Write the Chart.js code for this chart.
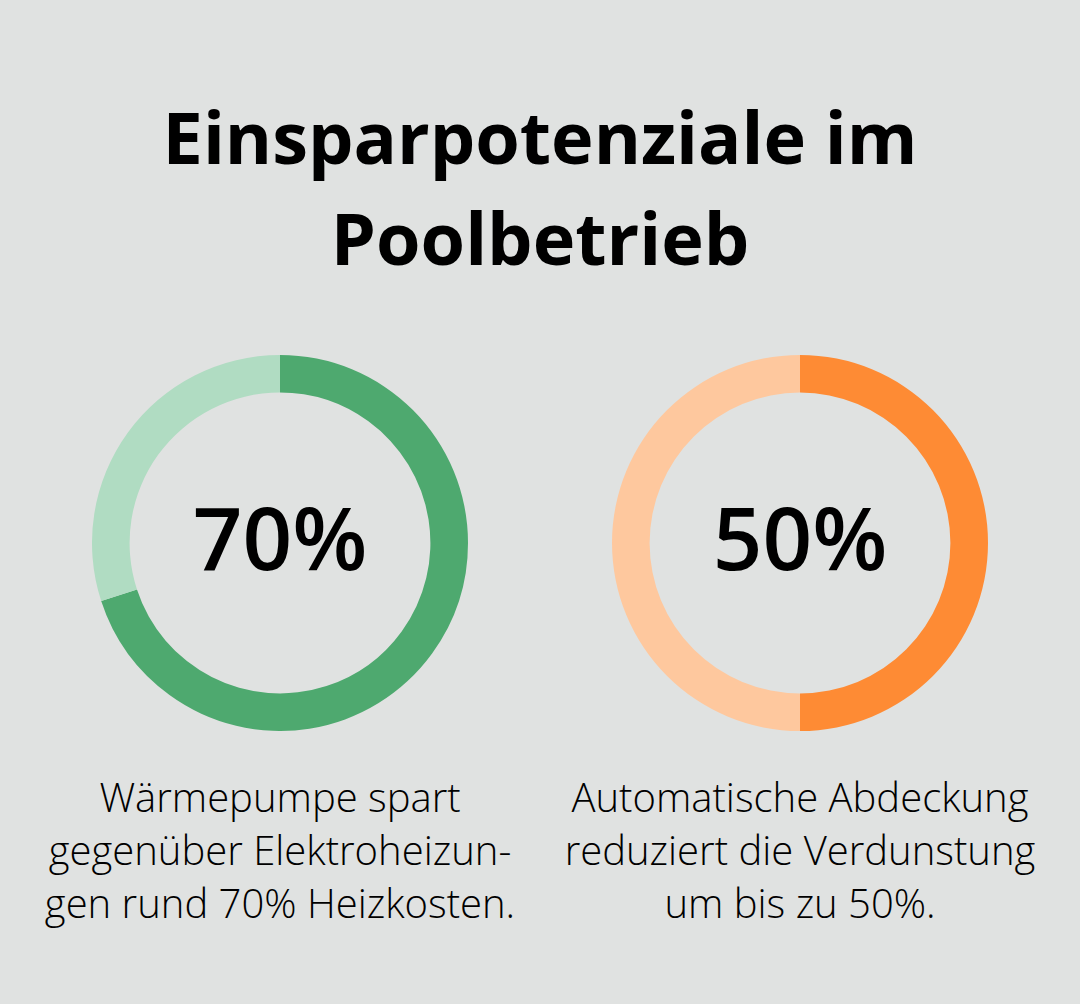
<!DOCTYPE html>
<html>
<head>
<meta charset="utf-8">
<script src="https://cdn.jsdelivr.net/npm/chart.js@4.4.0/dist/chart.umd.min.js"></script>
<style>
    html, body { margin: 0; padding: 0; }
    body {
        width: 1080px;
        height: 1004px;
        background: #e0e2e1;
        position: relative;
        overflow: hidden;
        font-family: "Open Sans", sans-serif;
        color: #000;
    }
    .title {
        position: absolute;
        left: 0;
        top: 86px;
        width: 1080px;
        text-align: center;
        font-size: 72px;
        font-weight: 700;
        line-height: 101px;
    }
    .ring {
        position: absolute;
        top: 355px;
        width: 376px;
        height: 376px;
    }
    .value {
        position: absolute;
        top: 492px;
        width: 376px;
        text-align: center;
        font-size: 87px;
        font-weight: 550;
        line-height: 88px;
    }
    .caption {
        position: absolute;
        top: 770px;
        width: 540px;
        text-align: center;
        font-size: 40px;
        font-weight: 300;
        line-height: 53px;
    }
</style>
</head>
<body>
<div class="title">Einsparpotenziale im<br>Poolbetrieb</div>

<canvas id="ring1" class="ring" width="376" height="376" style="left:92px"></canvas>
<canvas id="ring2" class="ring" width="376" height="376" style="left:612px"></canvas>

<div id="value1" class="value" style="left:92px"></div>
<div id="value2" class="value" style="left:612px"></div>

<div id="caption1" class="caption" style="left:10px"></div>
<div id="caption2" class="caption" style="left:530px"></div>

<script>
// Data
const savingsLabels = ['Wärmepumpe', 'Abdeckung'];
const savingsValues = [70, 50];
const captionLines = [
    ['Wärmepumpe spart', 'gegenüber Elektroheizun-', 'gen rund 70% Heizkosten.'],
    ['Automatische Abdeckung', 'reduziert die Verdunstung', 'um bis zu 50%.']
];
const mainColors = ['#4ea96f', '#fe8b34'];
const restColors = ['#b0dcc2', '#fec89e'];

document.addEventListener('DOMContentLoaded', function() {
    savingsValues.forEach(function(value, i) {
        const n = i + 1;

        document.getElementById('value' + n).textContent = value + '%';
        document.getElementById('caption' + n).innerHTML = captionLines[i].join('<br>');

        const ctx = document.getElementById('ring' + n).getContext('2d');
        new Chart(ctx, {
            type: 'doughnut',
            data: {
                labels: [savingsLabels[i], 'Rest'],
                datasets: [{
                    data: [value, 100 - value],
                    backgroundColor: [mainColors[i], restColors[i]],
                    borderWidth: 0
                }]
            },
            options: {
                responsive: false,
                animation: false,
                cutout: '80%',
                layout: { padding: 0 },
                plugins: {
                    legend: { display: false },
                    tooltip: { enabled: false }
                }
            }
        });
    });
});
</script>
</body>
</html>
